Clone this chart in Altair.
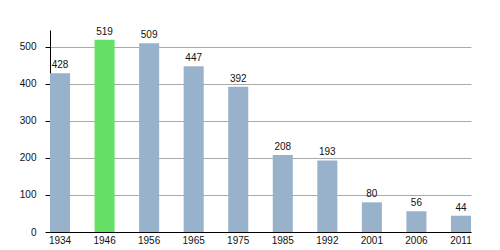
import altair as alt
import pandas as pd

years = ["1934", "1946", "1956", "1965", "1975", "1985", "1992", "2001", "2006", "2011"]
population = [428, 519, 509, 447, 392, 208, 193, 80, 56, 44]
highlight = ["no", "yes", "no", "no", "no", "no", "no", "no", "no", "no"]

df = pd.DataFrame({"year": years, "pop": population, "hl": highlight})

FONT = "Liberation Sans"

x = alt.X("year:N", sort=years, title=None,
          scale=alt.Scale(paddingInner=0.55, paddingOuter=0),
          axis=alt.Axis(labelAngle=0, ticks=False, labelPadding=3, domainColor="#000",
                        labelColor="#111", labelFont=FONT, labelFontSize=10, grid=False))

y = alt.Y("pop:Q", title=None,
          scale=alt.Scale(domain=[0, 545], nice=False),
          axis=alt.Axis(values=list(range(0, 550, 25)),
                        labelExpr="datum.value % 100 == 0 ? datum.label : ''",
                        grid=True,
                        gridColor={"condition": {"test": "datum.value % 100 == 0", "value": "#aaaaaa"},
                                   "value": "#e3e3e3"},
                        tickColor="#000", tickSize=5, labelPadding=9,
                        domainColor="#000", labelColor="#111", labelFont=FONT, labelFontSize=10))

bars = alt.Chart(df).mark_bar().encode(
    x=x, y=y,
    color=alt.Color("hl:N", scale=alt.Scale(domain=["no", "yes"], range=["#98b2cc", "#66e066"]), legend=None),
)

labels = alt.Chart(df).mark_text(dy=-5, baseline="alphabetic", font=FONT, fontSize=10, color="#111").encode(
    x=alt.X("year:N", sort=years), y="pop:Q", text="pop:Q"
)

chart = (bars + labels).properties(
    width=421, height=202,
    autosize=alt.AutoSizeParams(type="none"),
    padding={"left": 50, "top": 30, "right": 29, "bottom": 18},
).configure_view(stroke=None)

chart.save("out.html", embed_options={"renderer": "svg", "actions": False})
